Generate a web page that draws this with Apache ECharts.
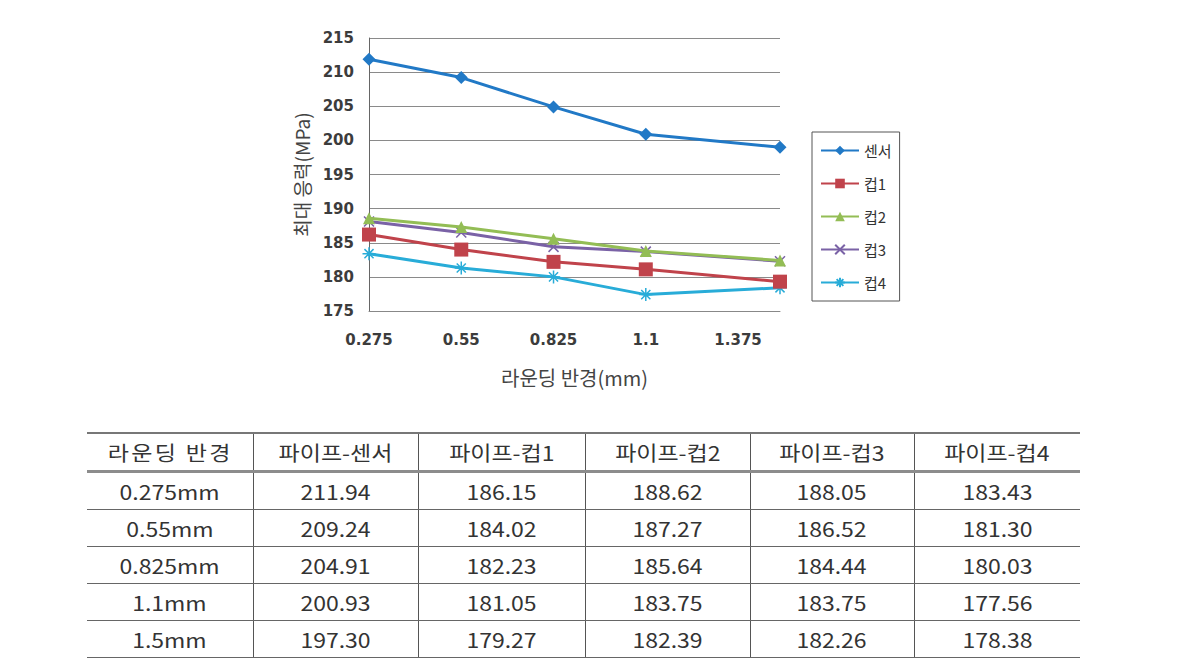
<!DOCTYPE html>
<html>
<head>
<meta charset="utf-8">
<script src="https://cdn.jsdelivr.net/npm/echarts@6/dist/echarts.min.js"></script>
<style>
  html, body { margin: 0; padding: 0; background: #fff; }
  #chart { position: absolute; left: 0; top: 0; width: 1196px; height: 420px; }
  #tbl { position: absolute; left: 87px; top: 432px; width: 993px; border-collapse: collapse; table-layout: fixed;
         font-family: "Noto Sans CJK KR", sans-serif; font-size: 20px; color: #333; }
  #tbl td { height: 36px; padding: 0; text-align: center; border-bottom: 1.5px solid #666;
            border-left: 1px solid #555; white-space: nowrap; }
  #tbl td:first-child { border-left: none; }
  #tbl tr:first-child td { border-top: 2px solid #777; border-bottom: 3px solid #8c8c8c; }
  #tbl span { display: inline-block; transform: scaleX(1.15); }
</style>
</head>
<body>
<div id="chart"></div>
<table id="tbl">
  <colgroup><col style="width:166px"><col style="width:165px"><col style="width:167px"><col style="width:165px"><col style="width:164px"><col style="width:166px"></colgroup>
  <tbody id="tbody"></tbody>
</table>
<script>
// x 값 (라운딩 반경, mm)
var radii = [0.275, 0.55, 0.825, 1.1, 1.5];
var seriesNames = ['센서', '컵1', '컵2', '컵3', '컵4'];

// 그래프에서 읽은 값
var chartSensor = [211.9, 209.2, 204.9, 200.9, 199.0];
var chartCup1 = [186.2, 184.0, 182.2, 181.1, 179.3];
var chartCup2 = [188.6, 187.3, 185.6, 183.8, 182.4];
var chartCup3 = [188.1, 186.5, 184.4, 183.7, 182.3];
var chartCup4 = [183.4, 181.3, 180.0, 177.4, 178.4];

// 표 값
var tableHeader = ['라운딩 반경', '파이프-센서', '파이프-컵1', '파이프-컵2', '파이프-컵3', '파이프-컵4'];
var rowLabels = ['0.275mm', '0.55mm', '0.825mm', '1.1mm', '1.5mm'];
var tblSensor = ['211.94', '209.24', '204.91', '200.93', '197.30'];
var tblCup1 = ['186.15', '184.02', '182.23', '181.05', '179.27'];
var tblCup2 = ['188.62', '187.27', '185.64', '183.75', '182.39'];
var tblCup3 = ['188.05', '186.52', '184.44', '183.75', '182.26'];
var tblCup4 = ['183.43', '181.30', '180.03', '177.56', '178.38'];

(function () {
  var colors = ['#2179c6', '#c0434b', '#93bd55', '#7a62a6', '#28acd8'];
  var symbols = [
    'diamond',
    'rect',
    'triangle',
    'path://M0,0L10,10M0,10L10,0',
    'path://M0,5L10,5M5,0L5,10M1.5,1.5L8.5,8.5M1.5,8.5L8.5,1.5'
  ];
  var sizes = [13, 14, 12, 10, 13];
  var values = [chartSensor, chartCup1, chartCup2, chartCup3, chartCup4];

  var series = values.map(function (vals, i) {
    return {
      name: seriesNames[i], type: 'line',
      data: vals.map(function (v, j) { return [radii[j], v]; }),
      symbol: symbols[i], symbolSize: sizes[i],
      lineStyle: { color: colors[i], width: 3 },
      itemStyle: { color: colors[i], borderColor: colors[i], borderWidth: i >= 3 ? 1.5 : 0 },
      z: 10 - i
    };
  });

  var labelFont = { color: '#3c3c3c', fontSize: 15, fontWeight: 'bold', fontFamily: 'DejaVu Sans' };

  var chart = echarts.init(document.getElementById('chart'), null, { renderer: 'svg' });
  chart.setOption({
    animation: false,
    grid: { left: 369, right: 416, top: 38, bottom: 109 },
    xAxis: {
      type: 'value', min: 0.275, max: 1.5, interval: 0.275,
      name: '라운딩 반경(mm)', nameLocation: 'middle', nameGap: 56,
      nameTextStyle: { color: '#444', fontSize: 20, fontFamily: 'Noto Sans CJK KR' },
      axisLine: { show: true, lineStyle: { color: '#888', width: 1 } },
      axisTick: { show: false },
      axisLabel: Object.assign({ margin: 21, showMaxLabel: false }, labelFont),
      splitLine: { show: false }
    },
    yAxis: {
      type: 'value', min: 175, max: 215, interval: 5,
      name: '최대 응력(MPa)', nameLocation: 'middle', nameGap: 58,
      nameTextStyle: { color: '#444', fontSize: 19, fontFamily: 'Noto Sans CJK KR' },
      axisLine: { show: true, lineStyle: { color: '#666', width: 1 } },
      axisTick: { show: false },
      axisLabel: Object.assign({ margin: 15 }, labelFont),
      splitLine: { show: true, lineStyle: { color: '#8a8a8a', width: 1 } }
    },
    legend: {
      orient: 'vertical', left: 812, top: 132,
      padding: [11, 8, 11, 8],
      borderColor: '#555', borderWidth: 1,
      itemWidth: 38, itemHeight: 12, itemGap: 18,
      textStyle: { color: '#333', fontSize: 15, fontFamily: 'Noto Sans CJK KR' },
      data: seriesNames
    },
    series: series
  });

  // 표 만들기
  var body = document.getElementById('tbody');
  var cols = [tblSensor, tblCup1, tblCup2, tblCup3, tblCup4];
  var html = '<tr>' + tableHeader.map(function (h, i) {
    var st = i === 0 ? ' style="letter-spacing:2px"' : '';
    return '<td><span' + st + '>' + h + '</span></td>';
  }).join('') + '</tr>';
  rowLabels.forEach(function (r, j) {
    html += '<tr><td><span>' + r + '</span></td>' + cols.map(function (c) {
      return '<td><span>' + c[j] + '</span></td>';
    }).join('') + '</tr>';
  });
  body.innerHTML = html;
})();
</script>
</body>
</html>
